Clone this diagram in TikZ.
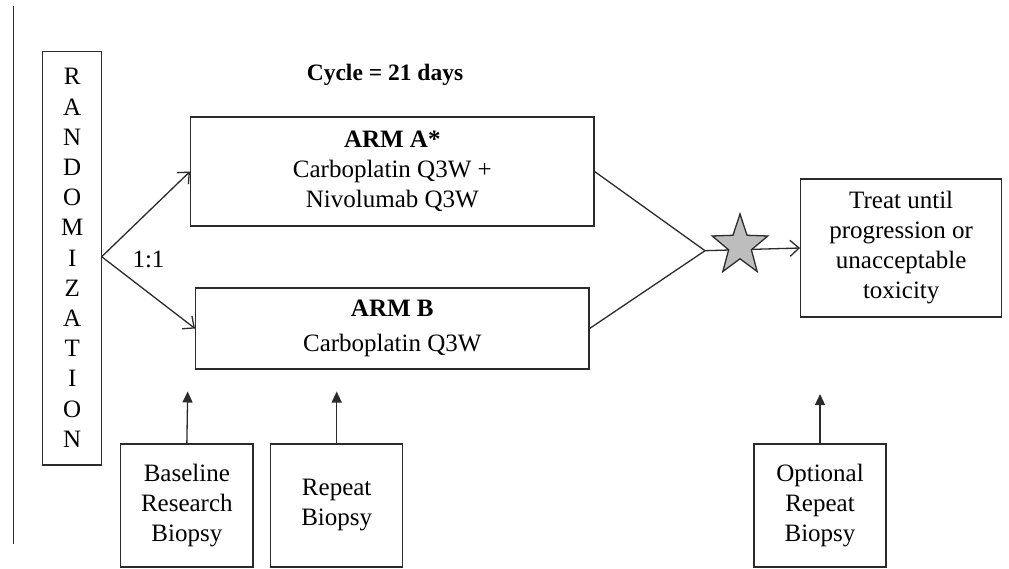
\documentclass[tikz,border=0pt]{standalone}
\usepackage{fontspec}
\setmainfont{Liberation Serif}
\usetikzlibrary{arrows.meta}
\definecolor{ln}{HTML}{2B2B2B}
\definecolor{stargray}{HTML}{BDBDBD}
\tikzset{
  box/.style={draw=ln, line width=1.3pt, rectangle, inner sep=0pt, align=center,
    font=\fontsize{25}{30}\selectfont, text=black},
  conn/.style={draw=ln, line width=1.3pt},
  openarrow/.style={conn, -{Straight Barb[length=9pt,width=16pt,line width=1.3pt]}},
  solidarrow/.style={conn, -{Triangle[length=11pt,width=10pt]}},
  lbl/.style={inner sep=0pt, text=black, font=\fontsize{25}{30}\selectfont}
}
\begin{document}
\begin{tikzpicture}[x=1pt,y=-1pt]
\useasboundingbox (0,0) rectangle (1009,568);
% left vertical rule
\coordinate (ruleTop) at (13.5,6);
\coordinate (ruleBot) at (13.5,544);
\draw[conn] (ruleTop) -- (ruleBot);

% randomization box
\node[box, minimum width=59pt, minimum height=413.3pt] (rand) at (72.2,258.35) {};
\node[lbl, align=center, font=\fontsize{25}{30.2}\selectfont] (randtxt) at (72.2,258) {R\\A\\N\\D\\O\\M\\I\\Z\\A\\T\\I\\O\\N};

% cycle label
\node[lbl, font=\fontsize{23.5}{28}\selectfont\bfseries] (cycle) at (385,75) {Cycle = 21 days};

% arms
\node[box, minimum width=403.3pt, minimum height=109pt] (armA) at (392.3,171.5)
  {\textbf{ARM A*}\\Carboplatin Q3W +\\Nivolumab Q3W};
\node[box, minimum width=393.3pt, minimum height=81pt] (armB) at (392.3,328.5)
  {\textbf{ARM B}\\[5pt]Carboplatin Q3W};

% treat box
\node[box, minimum width=201pt, minimum height=138pt] (treat) at (901.2,248)
  {Treat until\\progression or\\unacceptable\\toxicity};

% biopsy boxes
\node[box, minimum width=132.3pt, minimum height=123pt] (base) at (186.85,505.5)
  {Baseline\\Research\\Biopsy};
\node[box, minimum width=132pt, minimum height=123pt] (rep) at (336.7,505.5)
  {Repeat\\Biopsy};
\node[box, minimum width=132pt, minimum height=123pt] (opt) at (820,505.5)
  {Optional\\Repeat\\Biopsy};

% randomization split
\coordinate (split) at (101.7,256.7);
\draw[openarrow] (split) -- (armA.west);
\draw[openarrow] (split) -- (armB.west);
\node[lbl] (ratio) at (148.5,259) {1:1};

% merge
\coordinate (merge) at (705,250.7);
\draw[conn] (armA.east) -- (merge);
\draw[conn] (armB.east) -- (merge);
\draw[openarrow] (merge) -- (treat.west);

% star (y axis points down, so angles are negated)
\begin{scope}[shift={(740,245.8)}, xscale=0.92]
\draw[draw=ln, line width=1.3pt, fill=stargray, line join=miter]
  (-90:31.8) -- (-126:13) -- (-162:31.8) -- (-198:13) -- (-234:31.8) -- (-270:13)
  -- (-306:31.8) -- (-342:13) -- (-18:31.8) -- (-54:13) -- cycle;
\end{scope}

% biopsy arrows
\coordinate (baseTip) at (187.7,391.5);
\coordinate (repTip) at (336.7,391.5);
\coordinate (optTip) at (820,394);
\draw[solidarrow] (base.north) -- (baseTip);
\draw[solidarrow] (rep.north) -- (repTip);
\draw[solidarrow] (opt.north) -- (optTip);
\end{tikzpicture}
\end{document}
